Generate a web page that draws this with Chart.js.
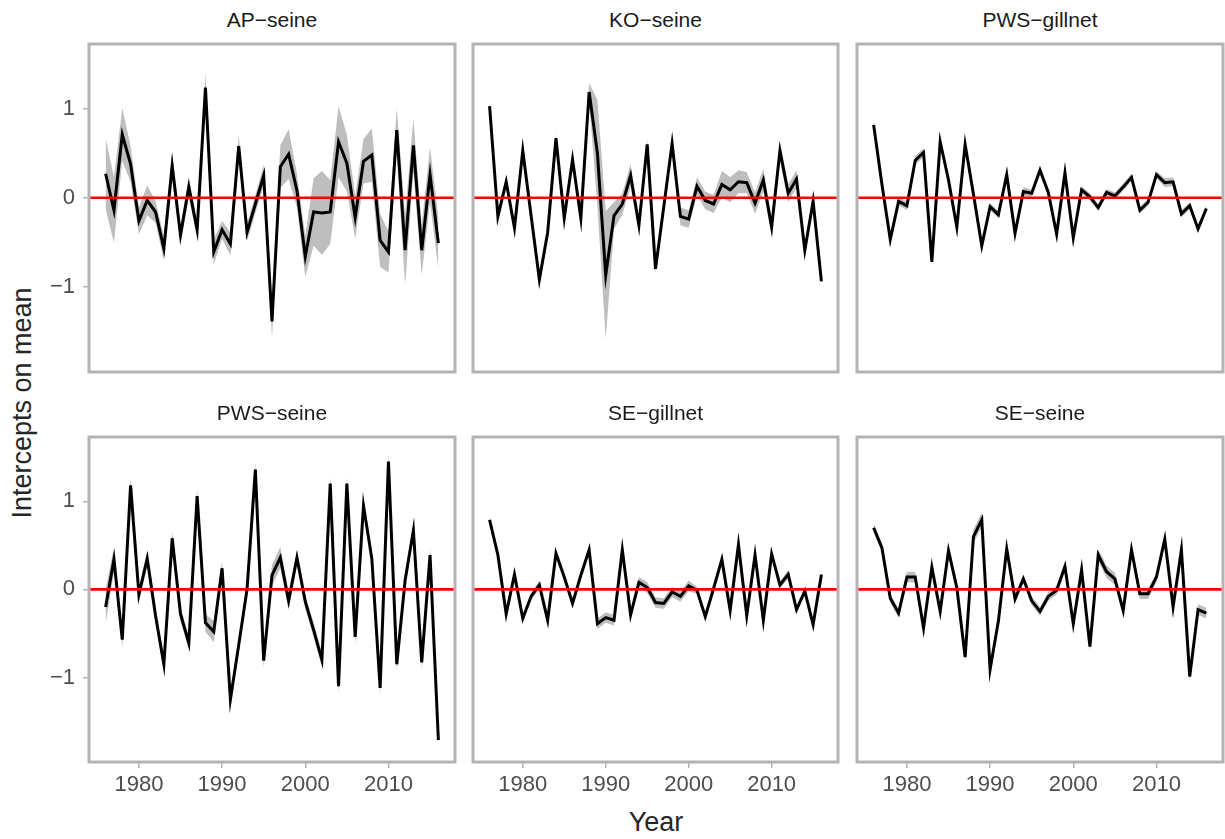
<!DOCTYPE html>
<html>
<head>
<meta charset="utf-8">
<script src="https://cdn.jsdelivr.net/npm/chart.js@4.4.1/dist/chart.umd.min.js"></script>
<style>
  body { margin: 0; width: 1225px; height: 839px; background: #fff; position: relative; overflow: hidden;
         font-family: "Liberation Sans", Arial, sans-serif; }
  canvas { position: absolute; }
  .strip { position: absolute; text-align: center; font-size: 21px; line-height: 24px; color: #1a1a1a; }
  .xtitle { position: absolute; left: 89px; width: 1134px; top: 807px; text-align: center;
            font-size: 27px; line-height: 30px; color: #262626; }
  .ytitle { position: absolute; left: 22px; top: 403px; transform: translate(-50%, -50%) rotate(-90deg);
            white-space: nowrap; font-size: 27px; line-height: 30px; color: #262626; }
</style>
</head>
<body>
<div class="xtitle">Year</div>
<div class="ytitle">Intercepts on mean</div>
<script>
// ── Datos ──────────────────────────────
const YEARS = [1976,1977,1978,1979,1980,1981,1982,1983,1984,1985,
               1986,1987,1988,1989,1990,1991,1992,1993,1994,1995,
               1996,1997,1998,1999,2000,2001,2002,2003,2004,2005,
               2006,2007,2008,2009,2010,2011,2012,2013,2014,2015,2016];
const PANELS = ['AP\u2212seine', 'KO\u2212seine', 'PWS\u2212gillnet', 'PWS\u2212seine', 'SE\u2212gillnet', 'SE\u2212seine'];
const X_TICKS = [1980, 1990, 2000, 2010];
const Y_TICKS = [-1, 0, 1];

const AP_SEINE_MEAN = [0.27,-0.14,0.71,0.38,-0.26,-0.03,-0.16,-0.57,0.36,-0.42,
                       0.12,-0.36,1.24,-0.61,-0.36,-0.52,0.58,-0.39,-0.07,0.25,
                       -1.39,0.35,0.49,0.08,-0.66,-0.16,-0.17,-0.16,0.63,0.39,
                       -0.22,0.41,0.48,-0.48,-0.61,0.76,-0.59,0.59,-0.59,0.26,-0.51];
const AP_SEINE_SE   = [0.40,0.37,0.30,0.20,0.15,0.17,0.12,0.14,0.14,0.10,
                       0.12,0.09,0.17,0.14,0.10,0.13,0.13,0.10,0.10,0.12,
                       0.19,0.24,0.28,0.19,0.23,0.38,0.47,0.36,0.40,0.32,
                       0.24,0.25,0.30,0.30,0.23,0.25,0.40,0.30,0.28,0.31,0.29];

const KO_SEINE_MEAN = [1.03,-0.21,0.18,-0.34,0.53,-0.20,-0.92,-0.39,0.67,-0.23,
                       0.43,-0.23,1.19,0.50,-0.87,-0.20,-0.07,0.25,-0.31,0.60,
                       -0.80,-0.10,0.61,-0.21,-0.24,0.13,-0.03,-0.07,0.15,0.09,
                       0.18,0.17,-0.06,0.20,-0.33,0.53,0.05,0.21,-0.59,-0.04,-0.94];
const KO_SEINE_SE   = [0.06,0.05,0.05,0.05,0.05,0.05,0.05,0.05,0.05,0.05,
                       0.05,0.05,0.10,0.60,0.72,0.15,0.12,0.13,0.07,0.06,
                       0.05,0.06,0.05,0.10,0.10,0.10,0.10,0.10,0.15,0.14,
                       0.13,0.12,0.12,0.13,0.10,0.10,0.10,0.10,0.05,0.05,0.05];

const PWS_GILLNET_MEAN = [0.82,0.15,-0.47,-0.04,-0.09,0.42,0.51,-0.72,0.63,0.20,
                          -0.33,0.60,0.04,-0.54,-0.10,-0.19,0.26,-0.40,0.07,0.05,
                          0.31,0.06,-0.41,0.28,-0.45,0.09,0.01,-0.11,0.06,0.02,
                          0.12,0.23,-0.14,-0.05,0.26,0.17,0.18,-0.18,-0.09,-0.35,-0.12];
const PWS_GILLNET_SE   = [0.05,0.04,0.04,0.04,0.05,0.05,0.05,0.04,0.04,0.04,
                          0.04,0.04,0.04,0.04,0.04,0.04,0.04,0.04,0.05,0.04,
                          0.04,0.04,0.04,0.04,0.04,0.04,0.04,0.04,0.04,0.04,
                          0.04,0.04,0.04,0.04,0.04,0.05,0.05,0.04,0.04,0.04,0.04];

const PWS_SEINE_MEAN = [-0.20,0.34,-0.57,1.18,-0.06,0.35,-0.30,-0.85,0.58,-0.28,
                        -0.61,1.06,-0.38,-0.48,0.24,-1.25,-0.63,0.00,1.36,-0.81,
                        0.16,0.36,-0.13,0.36,-0.14,-0.46,-0.80,1.20,-1.10,1.20,
                        -0.54,0.95,0.35,-1.12,1.45,-0.85,0.10,0.67,-0.83,0.39,-1.71];
const PWS_SEINE_SE   = [0.20,0.14,0.09,0.09,0.08,0.08,0.08,0.08,0.08,0.08,
                        0.08,0.08,0.10,0.12,0.08,0.08,0.08,0.08,0.09,0.08,
                        0.12,0.12,0.10,0.08,0.08,0.08,0.08,0.08,0.08,0.08,
                        0.08,0.08,0.08,0.08,0.08,0.08,0.08,0.08,0.08,0.08,0.08];

const SE_GILLNET_MEAN = [0.79,0.39,-0.28,0.17,-0.33,-0.08,0.05,-0.35,0.41,0.14,
                         -0.16,0.16,0.45,-0.39,-0.32,-0.35,0.45,-0.29,0.08,0.02,
                         -0.15,-0.16,-0.03,-0.08,0.04,-0.01,-0.31,0.01,0.34,-0.24,
                         0.51,-0.30,0.39,-0.35,0.40,0.05,0.17,-0.23,-0.02,-0.40,0.17];
const SE_GILLNET_SE   = [0.04,0.04,0.04,0.04,0.04,0.04,0.05,0.04,0.04,0.04,
                         0.04,0.04,0.04,0.06,0.06,0.06,0.04,0.04,0.06,0.06,
                         0.06,0.06,0.06,0.06,0.06,0.04,0.04,0.04,0.04,0.04,
                         0.04,0.04,0.04,0.04,0.04,0.04,0.05,0.04,0.04,0.04,0.04];

const SE_SEINE_MEAN = [0.70,0.47,-0.10,-0.27,0.14,0.14,-0.44,0.25,-0.25,0.44,
                       0.02,-0.77,0.60,0.79,-0.91,-0.36,0.46,-0.11,0.12,-0.13,
                       -0.25,-0.08,-0.01,0.26,-0.39,0.22,-0.65,0.39,0.20,0.12,
                       -0.24,0.45,-0.05,-0.05,0.14,0.57,-0.20,0.45,-0.99,-0.23,-0.27];
const SE_SEINE_SE   = [0.05,0.05,0.05,0.05,0.06,0.06,0.05,0.05,0.05,0.05,
                       0.05,0.05,0.08,0.08,0.05,0.05,0.05,0.05,0.05,0.05,
                       0.05,0.05,0.05,0.05,0.05,0.05,0.05,0.07,0.07,0.07,
                       0.05,0.05,0.06,0.06,0.05,0.05,0.05,0.05,0.05,0.06,0.06];

const SERIES = [
  [AP_SEINE_MEAN, AP_SEINE_SE], [KO_SEINE_MEAN, KO_SEINE_SE], [PWS_GILLNET_MEAN, PWS_GILLNET_SE],
  [PWS_SEINE_MEAN, PWS_SEINE_SE], [SE_GILLNET_MEAN, SE_GILLNET_SE], [SE_SEINE_MEAN, SE_SEINE_SE]
];

// ── Geometría de paneles (área de trazado) ──
const COLS = [[89, 455], [473, 838], [857, 1223]];
const ROWS = [[44, 372], [437, 762]];
const PAD_L = 89, PAD_T = 44, PAD_R = 2, PAD_B = 60;
const X_MIN = 1974, X_MAX = 2018, Y_MIN = -1.96, Y_MAX = 1.73;

const GREY_TXT = '#4d4d4d';
const GREY_LINE = '#b3b3b3';
const fmtTick = v => v < 0 ? '\u2212' + Math.abs(v) : String(v);

Chart.defaults.font.family = "'Liberation Sans', Arial, sans-serif";

// Borde gris de cada panel
const panelBorder = {
  id: 'panelBorder',
  afterDraw(chart) {
    const { ctx, chartArea: a } = chart;
    ctx.save();
    ctx.strokeStyle = GREY_LINE;
    ctx.lineWidth = 3;
    ctx.strokeRect(a.left, a.top, a.right - a.left, a.bottom - a.top);
    ctx.restore();
  }
};

PANELS.forEach((name, p) => {
  const r = Math.floor(p / 3), c = p % 3;
  const [cl, cr] = COLS[c], [ct, cb] = ROWS[r];
  const isLeft = c === 0, isBottom = r === 1;
  const [mean, se] = SERIES[p];

  // título de la tira
  const strip = document.createElement('div');
  strip.className = 'strip';
  strip.style.left = cl + 'px';
  strip.style.width = (cr - cl) + 'px';
  strip.style.top = (ct - 36) + 'px';
  strip.textContent = name;
  document.body.appendChild(strip);

  const cv = document.createElement('canvas');
  const w = (cr - cl) + PAD_L + PAD_R, h = (cb - ct) + PAD_T + PAD_B;
  cv.width = w; cv.height = h;
  cv.style.left = (cl - PAD_L) + 'px';
  cv.style.top = (ct - PAD_T) + 'px';
  cv.style.width = w + 'px'; cv.style.height = h + 'px';
  document.body.appendChild(cv);

  const upper = YEARS.map((x, i) => ({ x, y: mean[i] + se[i] }));
  const lower = YEARS.map((x, i) => ({ x, y: mean[i] - se[i] }));
  const line  = YEARS.map((x, i) => ({ x, y: mean[i] }));

  new Chart(cv, {
    type: 'line',
    data: {
      datasets: [
        { data: upper, fill: '+1', backgroundColor: '#bebebe', borderColor: 'rgba(0,0,0,0)',
          borderWidth: 1, pointRadius: 0, order: 2 },
        { data: lower, fill: false, borderColor: 'rgba(0,0,0,0)', borderWidth: 1, pointRadius: 0, order: 2 },
        { data: line, fill: false, borderColor: '#000000', borderWidth: 3, pointRadius: 0, order: 1 },
        { data: [{ x: X_MIN, y: 0 }, { x: X_MAX, y: 0 }], fill: false, borderColor: '#ff0000',
          borderWidth: 2.6, pointRadius: 0, order: 0 }
      ]
    },
    options: {
      responsive: false,
      animation: false,
      devicePixelRatio: 1,
      layout: { padding: { top: PAD_T, right: PAD_R, left: 0, bottom: 0 } },
      plugins: { legend: { display: false }, tooltip: { enabled: false } },
      scales: {
        x: {
          type: 'linear', min: X_MIN, max: X_MAX,
          afterBuildTicks: s => { s.ticks = X_TICKS.map(v => ({ value: v })); },
          afterFit: s => { s.height = PAD_B; },
          border: { display: false },
          grid: { display: isBottom, drawOnChartArea: false, tickLength: 6, color: GREY_LINE, lineWidth: 1.5 },
          ticks: { display: isBottom, color: GREY_TXT, font: { size: 22 }, padding: 4, maxRotation: 0,
                   callback: v => String(v) }
        },
        y: {
          type: 'linear', min: Y_MIN, max: Y_MAX,
          afterBuildTicks: s => { s.ticks = Y_TICKS.map(v => ({ value: v })); },
          afterFit: s => { s.width = PAD_L; },
          border: { display: false },
          grid: { display: isLeft, drawOnChartArea: false, tickLength: 6, color: GREY_LINE, lineWidth: 1.5 },
          ticks: { display: isLeft, color: GREY_TXT, font: { size: 22 }, padding: 8, callback: fmtTick }
        }
      }
    },
    plugins: [panelBorder]
  });
});
</script>
</body>
</html>
